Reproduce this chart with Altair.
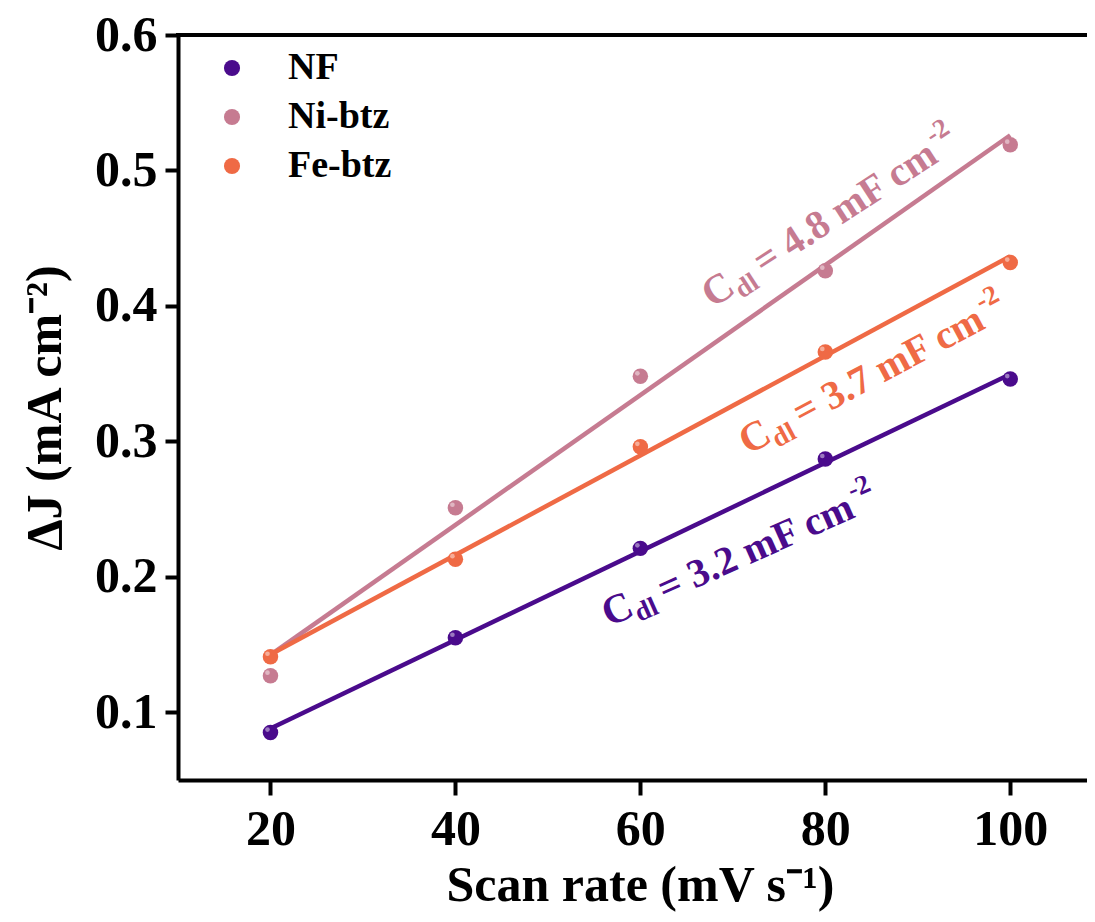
import altair as alt
import pandas as pd

# ---- data ----
scan_rate = [20, 40, 60, 80, 100]
nf = [0.085, 0.155, 0.221, 0.287, 0.346]
ni_btz = [0.127, 0.251, 0.348, 0.426, 0.519]
fe_btz = [0.141, 0.213, 0.296, 0.366, 0.432]
series = ["NF", "Ni-btz", "Fe-btz"]
colors = ["#4A0B8C", "#C67B91", "#EF6A45"]

# annotation (C_dl) values and anchors
cdl_values = ["3.2", "4.8", "3.7"]
label_x = [56.6, 67.8, 71.6]
label_y = [0.163, 0.398, 0.290]
label_angle = [336, 327, 332]

FONT = "Liberation Serif"
W, H = 909, 745

rows = []
for name, vals in zip(series, [nf, ni_btz, fe_btz]):
    for x, y in zip(scan_rate, vals):
        rows.append({"series": name, "x": x, "y": y})
df = pd.DataFrame(rows)

lab = pd.DataFrame({
    "series": series,
    "x": label_x,
    "y": label_y,
    "angle": label_angle,
    "c": ["C"] * 3,
    "sub": ["dl"] * 3,
    "main": ["= " + v + " mF cm" for v in cdl_values],
    "sup": ["-2"] * 3,
})

xs = alt.Scale(domain=[10, 108.3], nice=False, zero=False)
ys = alt.Scale(domain=[0.05, 0.6], nice=False, zero=False)
cs = alt.Scale(domain=series, range=colors)

xaxis = alt.Axis(values=[20, 40, 60, 80, 100], title="Scan rate (mV s\u207b\u00b9)",
                 tickSize=15, labelPadding=9, titlePadding=6, titleX=462)
yaxis = alt.Axis(values=[0.1, 0.2, 0.3, 0.4, 0.5, 0.6], format=".1f",
                 title="\u0394J (mA cm\u207b\u00b2)", tickSize=13, labelPadding=8,
                 titlePadding=24)

base = alt.Chart(df)

lines = base.transform_regression(
    "x", "y", groupby=["series"], method="linear"
).mark_line(strokeWidth=4.5).encode(
    x=alt.X("x:Q", scale=xs, axis=xaxis),
    y=alt.Y("y:Q", scale=ys, axis=yaxis),
    color=alt.Color("series:N", scale=cs, legend=None),
)

points = base.mark_circle(size=240, opacity=1).encode(
    x=alt.X("x:Q", scale=xs),
    y=alt.Y("y:Q", scale=ys),
    color=alt.Color("series:N", scale=cs,
                    legend=alt.Legend(title=None, orient="none", legendX=35, legendY=14,
                                      padding=0, symbolSize=260, symbolType="circle",
                                      symbolOpacity=1, symbolStrokeWidth=0,
                                      labelFontSize=38, labelFont=FONT,
                                      labelFontWeight="bold", labelOffset=37,
                                      rowPadding=11, labelColor="black")),
)

highlight = base.mark_circle(size=22, color="white", opacity=0.45,
                             xOffset=-3, yOffset=-3).encode(
    x=alt.X("x:Q", scale=xs),
    y=alt.Y("y:Q", scale=ys),
)

lbase = alt.Chart(lab)
enc = dict(
    x=alt.X("x:Q", scale=xs),
    y=alt.Y("y:Q", scale=ys),
    angle=alt.Angle("angle:Q", scale=None),
    color=alt.Color("series:N", scale=cs, legend=None),
)
t_c = lbase.mark_text(font=FONT, fontWeight="bold", fontSize=41, align="left",
                      baseline="alphabetic", dx=0, dy=0).encode(text="c:N", **enc)
t_sub = lbase.mark_text(font=FONT, fontWeight="bold", fontSize=27, align="left",
                        baseline="alphabetic", dx=30, dy=8).encode(text="sub:N", **enc)
t_main = lbase.mark_text(font=FONT, fontWeight="bold", fontSize=40, align="left",
                         baseline="alphabetic", dx=61, dy=0).encode(text="main:N", **enc)
t_sup = lbase.mark_text(font=FONT, fontWeight="bold", fontSize=27, align="left",
                        baseline="alphabetic", dx=274, dy=-18).encode(text="sup:N", **enc)

top = alt.Chart(df).mark_rule(color="black", strokeWidth=4).encode(
    x=alt.value(-2), x2=alt.value(W), y=alt.value(0)
)

chart = alt.layer(lines, points, highlight, t_c, t_sub, t_main, t_sup, top).resolve_legend(
    color="independent"
).properties(
    width=W, height=H,
    autosize=alt.AutoSizeParams(type="none"),
    padding={"left": 170, "top": 27, "right": 0, "bottom": 136},
).configure_view(strokeWidth=0).configure_axis(
    grid=False,
    domainColor="black", domainWidth=4,
    tickColor="black", tickWidth=4,
    labelFont=FONT, labelFontSize=50, labelFontWeight="bold", labelColor="black",
    titleFont=FONT, titleFontSize=50, titleFontWeight="bold", titleColor="black",
)

chart.save("out.html", embed_options={"renderer": "svg", "actions": False})
